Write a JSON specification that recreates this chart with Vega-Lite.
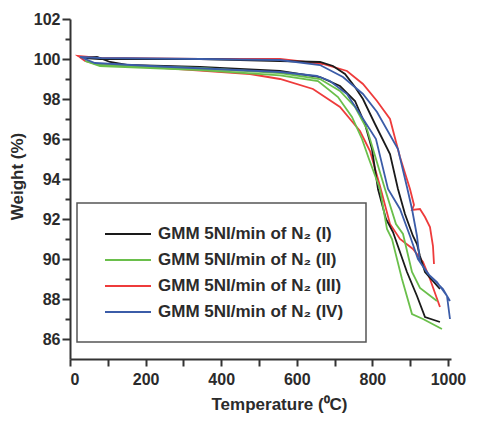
{
"$schema": "https://vega.github.io/schema/vega-lite/v6.json",
"width": 381, "height": 340,
"autosize": {"type": "none"},
"padding": {"left": 70, "top": 19, "right": 28, "bottom": 66},
"background": "white",
"data": {"values": [
{"s":"III","i":1,"t":963.0,"w":89.75},{"s":"III","i":2,"t":960.3,"w":90.65},{"s":"III","i":3,"t":952.4,"w":91.6},{"s":"III","i":4,"t":939.2,"w":92.1},{"s":"III","i":5,"t":925.9,"w":92.5},{"s":"III","i":6,"t":904.8,"w":92.45},{"s":"III","i":7,"t":910.1,"w":92.7},{"s":"III","i":8,"t":899.5,"w":93.5},{"s":"III","i":9,"t":873.0,"w":95.1},{"s":"III","i":10,"t":846.6,"w":97.0},{"s":"III","i":11,"t":812.2,"w":97.9},{"s":"III","i":12,"t":775.1,"w":98.75},{"s":"III","i":13,"t":732.8,"w":99.4},{"s":"III","i":14,"t":669.3,"w":99.75},{"s":"III","i":15,"t":555.6,"w":100.0},{"s":"III","i":16,"t":343.9,"w":100.0},{"s":"III","i":17,"t":79.4,"w":100.05},{"s":"III","i":18,"t":21.2,"w":100.15},{"s":"III","i":19,"t":39.7,"w":99.9},{"s":"III","i":20,"t":79.4,"w":99.7},{"s":"III","i":21,"t":211.6,"w":99.6},{"s":"III","i":22,"t":476.2,"w":99.25},{"s":"III","i":23,"t":555.6,"w":99.0},{"s":"III","i":24,"t":642.9,"w":98.5},{"s":"III","i":25,"t":714.3,"w":97.6},{"s":"III","i":26,"t":767.2,"w":96.4},{"s":"III","i":27,"t":793.7,"w":95.4},{"s":"III","i":28,"t":820.1,"w":93.65},{"s":"III","i":29,"t":846.6,"w":91.75},{"s":"III","i":30,"t":873.0,"w":91.0},{"s":"III","i":31,"t":907.4,"w":90.5},{"s":"III","i":32,"t":933.9,"w":89.85},{"s":"III","i":33,"t":952.4,"w":89.0},{"s":"III","i":34,"t":978.8,"w":87.6},
{"s":"I","i":1,"t":978.8,"w":88.5},{"s":"I","i":2,"t":939.2,"w":89.35},{"s":"I","i":3,"t":925.9,"w":90.15},{"s":"I","i":4,"t":918.0,"w":90.75},{"s":"I","i":5,"t":907.4,"w":91.15},{"s":"I","i":6,"t":886.2,"w":92.25},{"s":"I","i":7,"t":867.7,"w":93.5},{"s":"I","i":8,"t":846.6,"w":95.25},{"s":"I","i":9,"t":806.9,"w":96.75},{"s":"I","i":10,"t":775.1,"w":98.0},{"s":"I","i":11,"t":754.0,"w":98.6},{"s":"I","i":12,"t":727.5,"w":99.25},{"s":"I","i":13,"t":695.8,"w":99.65},{"s":"I","i":14,"t":661.4,"w":99.85},{"s":"I","i":15,"t":555.6,"w":99.9},{"s":"I","i":16,"t":343.9,"w":100.0},{"s":"I","i":17,"t":79.4,"w":100.0},{"s":"I","i":18,"t":39.7,"w":100.05},{"s":"I","i":19,"t":71.4,"w":100.1},{"s":"I","i":20,"t":105.8,"w":99.85},{"s":"I","i":21,"t":150.8,"w":99.7},{"s":"I","i":22,"t":343.9,"w":99.6},{"s":"I","i":23,"t":555.6,"w":99.4},{"s":"I","i":24,"t":661.4,"w":99.1},{"s":"I","i":25,"t":714.3,"w":98.65},{"s":"I","i":26,"t":754.0,"w":97.9},{"s":"I","i":27,"t":780.4,"w":96.75},{"s":"I","i":28,"t":798.9,"w":95.5},{"s":"I","i":29,"t":814.8,"w":93.5},{"s":"I","i":30,"t":836.0,"w":92.0},{"s":"I","i":31,"t":854.5,"w":91.35},{"s":"I","i":32,"t":891.5,"w":89.35},{"s":"I","i":33,"t":918.0,"w":88.15},{"s":"I","i":34,"t":939.2,"w":87.1},{"s":"I","i":35,"t":978.8,"w":86.85},
{"s":"II","i":1,"t":970.9,"w":87.9},{"s":"II","i":2,"t":925.9,"w":88.55},{"s":"II","i":3,"t":904.8,"w":89.35},{"s":"II","i":4,"t":881.0,"w":91.25},{"s":"II","i":5,"t":862.4,"w":91.75},{"s":"II","i":6,"t":833.3,"w":93.5},{"s":"II","i":7,"t":801.6,"w":95.5},{"s":"II","i":8,"t":785.7,"w":96.5},{"s":"II","i":9,"t":754.0,"w":97.6},{"s":"II","i":10,"t":714.3,"w":98.4},{"s":"II","i":11,"t":661.4,"w":99.0},{"s":"II","i":12,"t":555.6,"w":99.3},{"s":"II","i":13,"t":343.9,"w":99.55},{"s":"II","i":14,"t":79.4,"w":99.7},{"s":"II","i":15,"t":39.7,"w":99.9},{"s":"II","i":16,"t":79.4,"w":99.65},{"s":"II","i":17,"t":343.9,"w":99.45},{"s":"II","i":18,"t":555.6,"w":99.18},{"s":"II","i":19,"t":656.1,"w":98.9},{"s":"II","i":20,"t":709.0,"w":98.1},{"s":"II","i":21,"t":746.0,"w":97.1},{"s":"II","i":22,"t":772.5,"w":96.0},{"s":"II","i":23,"t":791.0,"w":95.0},{"s":"II","i":24,"t":820.1,"w":93.5},{"s":"II","i":25,"t":838.6,"w":91.5},{"s":"II","i":26,"t":851.9,"w":91.0},{"s":"II","i":27,"t":878.3,"w":89.0},{"s":"II","i":28,"t":904.8,"w":87.25},{"s":"II","i":29,"t":933.9,"w":87.0},{"s":"II","i":30,"t":984.1,"w":86.5},
{"s":"IV","i":1,"t":1005.3,"w":87.9},{"s":"IV","i":2,"t":986.8,"w":88.5},{"s":"IV","i":3,"t":952.4,"w":89.15},{"s":"IV","i":4,"t":925.9,"w":89.85},{"s":"IV","i":5,"t":918.0,"w":91.15},{"s":"IV","i":6,"t":904.8,"w":92.5},{"s":"IV","i":7,"t":891.5,"w":93.6},{"s":"IV","i":8,"t":867.7,"w":95.5},{"s":"IV","i":9,"t":812.2,"w":97.35},{"s":"IV","i":10,"t":775.1,"w":98.25},{"s":"IV","i":11,"t":722.2,"w":99.1},{"s":"IV","i":12,"t":661.4,"w":99.7},{"s":"IV","i":13,"t":555.6,"w":99.95},{"s":"IV","i":14,"t":343.9,"w":100.0},{"s":"IV","i":15,"t":79.4,"w":100.05},{"s":"IV","i":16,"t":26.5,"w":100.1},{"s":"IV","i":17,"t":66.1,"w":99.8},{"s":"IV","i":18,"t":211.6,"w":99.65},{"s":"IV","i":19,"t":555.6,"w":99.35},{"s":"IV","i":20,"t":653.4,"w":99.15},{"s":"IV","i":21,"t":687.8,"w":98.9},{"s":"IV","i":22,"t":732.8,"w":98.25},{"s":"IV","i":23,"t":767.2,"w":97.25},{"s":"IV","i":24,"t":809.5,"w":96.0},{"s":"IV","i":25,"t":841.3,"w":93.5},{"s":"IV","i":26,"t":873.0,"w":92.5},{"s":"IV","i":27,"t":899.5,"w":91.15},{"s":"IV","i":28,"t":920.6,"w":90.0},{"s":"IV","i":29,"t":947.1,"w":89.25},{"s":"IV","i":30,"t":970.9,"w":88.85},{"s":"IV","i":31,"t":997.4,"w":88.15},{"s":"IV","i":32,"t":1005.3,"w":87.0}
]},
"mark": {"type": "line", "strokeWidth": 1.8},
"encoding": {
  "x": {"field": "t", "type": "quantitative",
    "scale": {"domain": [0, 1008], "nice": false, "zero": false},
    "axis": {"title": "Temperature (⁰C)", "values": [0,100,200,300,400,500,600,700,800,900,1000], "format": "d",
      "labelExpr": "datum.value % 200 === 0 ? datum.label : ''", "tickSize": 7, "labelPadding": 5, "titlePadding": 9, "titleX": 209}},
  "y": {"field": "w", "type": "quantitative",
    "scale": {"domain": [85, 102], "nice": false, "zero": false},
    "axis": {"title": "Weight (%)", "values": [86,87,88,89,90,91,92,93,94,95,96,97,98,99,100,101,102], "format": "d",
      "labelExpr": "datum.value % 2 === 0 ? datum.label : ''",
      "tickSize": {"condition": {"test": "datum.value % 2 === 0", "value": 8}, "value": 5},
      "labelPadding": 2, "titlePadding": 7, "titleY": 157}},
  "color": {"field": "s", "type": "nominal",
    "scale": {"domain": ["I","II","III","IV"], "range": ["#1a1a1a","#6abf4b","#ee3b3b","#3b5ca8"]},
    "legend": {"title": null, "orient": "none", "legendX": 7, "legendY": 184, "symbolType": "M-3,0H3", "symbolSize": 235,
      "symbolStrokeWidth": 2, "labelExpr": "'GMM 5NI/min of N₂ (' + datum.label + ')'",
      "labelFontSize": 17, "labelFont": "Liberation Sans", "labelFontWeight": "bold", "labelColor": "#2b2b2b", "labelLimit": 400,
      "strokeColor": "#555555", "padding": 22, "symbolOffset": 20, "labelOffset": 21, "rowPadding": 9}},
  "order": {"field": "i", "type": "quantitative"}
},
"config": {
  "view": {"stroke": null},
  "axis": {"grid": false, "domainColor": "#333333", "domainWidth": 2, "tickColor": "#333333", "tickWidth": 2,
    "labelFont": "Liberation Sans", "labelFontWeight": "bold", "labelFontSize": 16, "labelColor": "#2b2b2b",
    "titleFont": "Liberation Sans", "titleFontWeight": "bold", "titleFontSize": 17, "titleColor": "#2b2b2b"},
  "legend": {"strokeWidth": 1.5}
}
}
